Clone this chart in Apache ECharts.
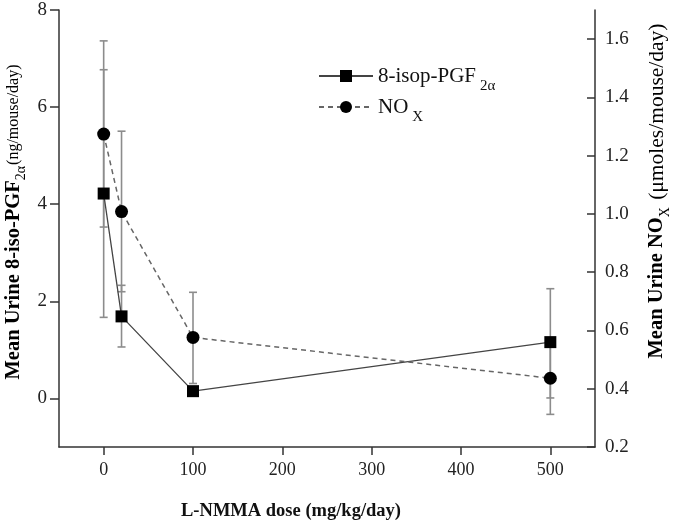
<!DOCTYPE html>
<html>
<head>
<meta charset="utf-8">
<script src="https://cdn.jsdelivr.net/npm/echarts@6/dist/echarts.min.js"></script>
<style>html,body{margin:0;padding:0;background:#fff}#c{width:675px;height:522px}</style>
</head>
<body>
<div id="c"></div>
<script>
// Data
const doses = [0, 20, 100, 500];
const isopMean = [4.22, 1.69, 0.15, 1.16];
const isopLow  = [1.67, 1.06, null, 0.01];
const isopHigh = [6.77, 2.33, null, 2.26];
const noxMean = [1.274, 1.008, 0.576, 0.436];
const noxLow  = [0.955, 0.733, 0.418, 0.312];
const noxHigh = [1.594, 1.284, 0.731, 0.560];
const xTicks = [0, 100, 200, 300, 400, 500];
const leftTicks = [0, 2, 4, 6, 8];
const rightTicks = [0.2, 0.4, 0.6, 0.8, 1.0, 1.2, 1.4, 1.6];

const FONT = '"Liberation Serif", "DejaVu Serif", serif';
const AXIS_COLOR = '#333';
const ERR_COLOR = '#8c8c8c';

function pairs(xs, ys) { return xs.map((x, i) => [x, ys[i]]); }
function errData(xs, lo, hi) {
  const out = [];
  xs.forEach((x, i) => { if (lo[i] != null && hi[i] != null) out.push([x, lo[i], hi[i]]); });
  return out;
}
function errRender(params, api) {
  const x = api.value(0), lo = api.value(1), hi = api.value(2);
  const p1 = api.coord([x, lo]), p2 = api.coord([x, hi]);
  const w = 4;
  const st = { stroke: ERR_COLOR, lineWidth: 1.6 };
  return {
    type: 'group',
    children: [
      { type: 'line', shape: { x1: p1[0], y1: p1[1], x2: p2[0], y2: p2[1] }, style: st },
      { type: 'line', shape: { x1: p1[0] - w, y1: p1[1], x2: p1[0] + w, y2: p1[1] }, style: st },
      { type: 'line', shape: { x1: p2[0] - w, y1: p2[1], x2: p2[0] + w, y2: p2[1] }, style: st }
    ]
  };
}

const legendRich = {
  m: { fontFamily: FONT, fontSize: 21, color: '#111', lineHeight: 22 },
  s: { fontFamily: FONT, fontSize: 15, color: '#111', lineHeight: 14, verticalAlign: 'top', padding: [14, 0, 0, 4] }
};

const chart = echarts.init(document.getElementById('c'), null, { renderer: 'canvas' });
chart.setOption({
  animation: false,
  backgroundColor: '#fff',
  grid: { left: 59, right: 80, top: 10, bottom: 75, containLabel: false },
  xAxis: {
    type: 'value', min: -50, max: 550,
    axisLine: { show: true, onZero: false, lineStyle: { color: AXIS_COLOR, width: 1.5 } },
    axisTick: { show: true, length: 8, lineStyle: { color: AXIS_COLOR, width: 1.5 }, customValues: xTicks },
    axisLabel: { customValues: xTicks, fontFamily: FONT, fontSize: 18, color: '#222', margin: 14 },
    splitLine: { show: false }
  },
  yAxis: [
    {
      type: 'value', min: -1, max: 8, position: 'left',
      axisLine: { show: true, onZero: false, lineStyle: { color: AXIS_COLOR, width: 1.5 } },
      axisTick: { show: true, length: 9, lineStyle: { color: AXIS_COLOR, width: 1.5 }, customValues: leftTicks },
      axisLabel: { customValues: leftTicks, fontFamily: FONT, fontSize: 19, color: '#222', margin: 12 },
      splitLine: { show: false }
    },
    {
      type: 'value', min: 0.2, max: 1.7, position: 'right',
      axisLine: { show: true, onZero: false, lineStyle: { color: AXIS_COLOR, width: 1.5 } },
      axisTick: { show: true, inside: true, length: 8, lineStyle: { color: AXIS_COLOR, width: 1.5 }, customValues: rightTicks },
      axisLabel: { customValues: rightTicks, fontFamily: FONT, fontSize: 19, color: '#222', margin: 10,
        formatter: v => Number(v).toFixed(1) },
      splitLine: { show: false }
    }
  ],
  legend: [
    {
      data: ['8-isop-PGF2α'], orient: 'vertical', left: 318, top: 65, padding: 0,
      itemWidth: 54, itemHeight: 15, itemGap: 0,
      formatter: () => '{m|8-isop-PGF}{s|2α}',
      textStyle: { rich: legendRich }
    },
    {
      data: ['NOx'], orient: 'vertical', left: 318, top: 96, padding: 0,
      itemWidth: 54, itemHeight: 15, itemGap: 0,
      formatter: () => '{m|NO}{s|X}',
      textStyle: { rich: legendRich }
    }
  ],
  series: [
    {
      type: 'custom', name: 'isopErr', xAxisIndex: 0, yAxisIndex: 0,
      renderItem: errRender, data: errData(doses, isopLow, isopHigh), z: 1, silent: true
    },
    {
      type: 'custom', name: 'noxErr', xAxisIndex: 0, yAxisIndex: 1,
      renderItem: errRender, data: errData(doses, noxLow, noxHigh), z: 1, silent: true
    },
    {
      type: 'line', name: '8-isop-PGF2α', yAxisIndex: 0, data: pairs(doses, isopMean),
      symbol: 'rect', symbolSize: 12, z: 3,
      itemStyle: { color: '#000' },
      lineStyle: { color: '#444', width: 1.3, type: 'solid' }
    },
    {
      type: 'line', name: 'NOx', yAxisIndex: 1, data: pairs(doses, noxMean),
      symbol: 'circle', symbolSize: 13, z: 3,
      itemStyle: { color: '#000' },
      lineStyle: { color: '#666', width: 1.5, type: [5, 4] }
    }
  ],
  graphic: [
    {
      type: 'text', x: 14, y: 222, rotation: Math.PI / 2,
      style: {
        text: '{b|Mean Urine 8-iso-PGF}{s|2α}{n|(ng/mouse/day)}',
        align: 'center', verticalAlign: 'middle',
        rich: {
          b: { fontFamily: FONT, fontSize: 20.5, fontWeight: 'bold', color: '#111', lineHeight: 22 },
          s: { fontFamily: FONT, fontSize: 14, color: '#111', lineHeight: 14, verticalAlign: 'top', padding: [11, 1, 0, 0] },
          n: { fontFamily: FONT, fontSize: 16, color: '#111', lineHeight: 22 }
        }
      }
    },
    {
      type: 'text', x: 657, y: 191, rotation: Math.PI / 2,
      style: {
        text: '{b|Mean Urine NO}{s|X}{n| (μmoles/mouse/day)}',
        align: 'center', verticalAlign: 'middle',
        rich: {
          b: { fontFamily: FONT, fontSize: 20.5, fontWeight: 'bold', color: '#111', lineHeight: 22 },
          s: { fontFamily: FONT, fontSize: 14, color: '#111', lineHeight: 14, verticalAlign: 'top', padding: [12, 2, 0, 0] },
          n: { fontFamily: FONT, fontSize: 21.5, color: '#111', lineHeight: 22 }
        }
      }
    },
    {
      type: 'text', x: 291, y: 511,
      style: {
        text: 'L-NMMA dose (mg/kg/day)',
        align: 'center', verticalAlign: 'middle',
        fontFamily: FONT, fontSize: 18.5, fontWeight: 'bold', fill: '#111'
      }
    }
  ]
});
</script>
</body>
</html>
